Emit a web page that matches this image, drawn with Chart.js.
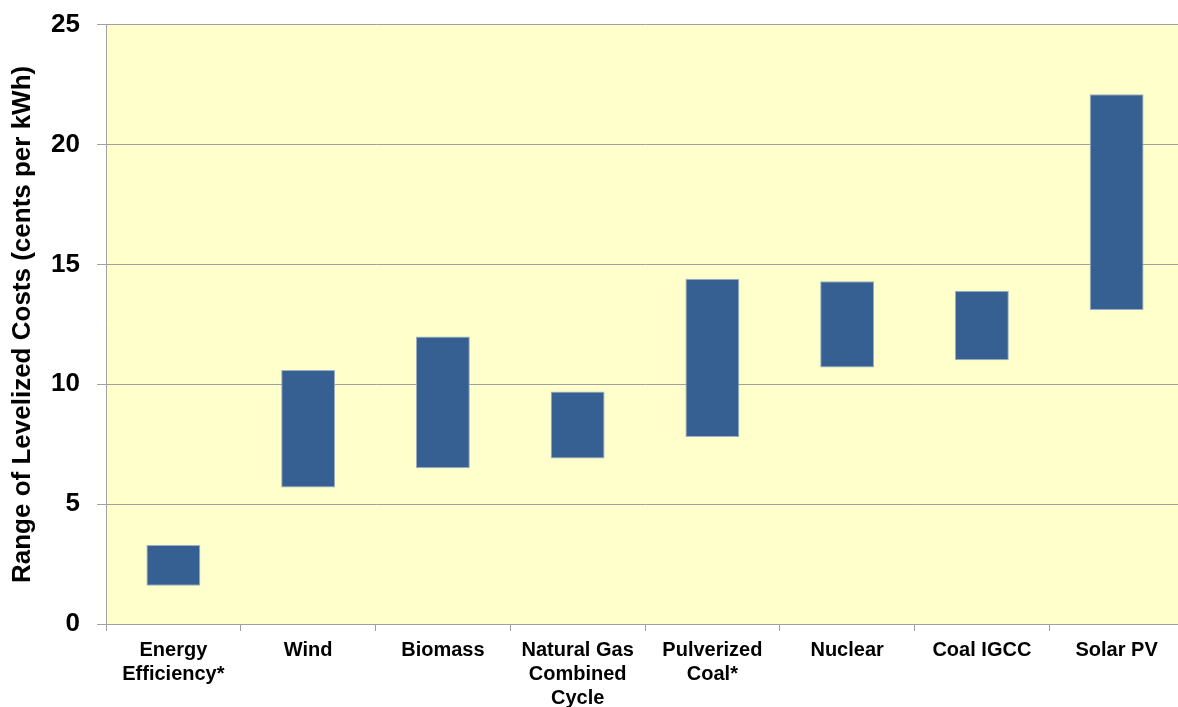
<!DOCTYPE html>
<html>
<head>
<meta charset="utf-8">
<script src="https://cdn.jsdelivr.net/npm/chart.js@4.4.0/dist/chart.umd.min.js"></script>
<style>
  html, body { margin: 0; padding: 0; background: #fff; overflow: hidden; }
  #wrap { width: 1184px; height: 707px; }
</style>
</head>
<body>
<div id="wrap"><canvas id="chart" width="1184" height="707"></canvas></div>
<script>
// categories and cost ranges (cents per kWh)
const categories = [
  ["Energy", "Efficiency*"],
  "Wind",
  "Biomass",
  ["Natural Gas", "Combined", "Cycle"],
  ["Pulverized", "Coal*"],
  "Nuclear",
  "Coal IGCC",
  "Solar PV"
];
const lowCost  = [1.6, 5.7, 6.5, 6.9, 7.8, 10.7, 11.0, 13.1];
const highCost = [3.3, 10.6, 12.0, 9.7, 14.4, 14.3, 13.9, 22.1];
const yTicks = [0, 5, 10, 15, 20, 25];

const ranges = lowCost.map((lo, i) => [lo, highCost[i]]);

// yellow plot background
const plotBg = {
  id: "plotBg",
  beforeDraw(chart) {
    const { ctx, chartArea: a } = chart;
    ctx.save();
    ctx.fillStyle = "#FFFFCC";
    ctx.fillRect(a.left, a.top, a.right - a.left, a.bottom - a.top);
    ctx.restore();
  }
};

new Chart(document.getElementById("chart"), {
  type: "bar",
  data: {
    labels: categories,
    datasets: [{
      data: ranges,
      backgroundColor: "#366092",
      borderColor: "#9DB0C6",
      borderWidth: 1,
      borderSkipped: false,
      barPercentage: 0.4,
      categoryPercentage: 1.0
    }]
  },
  options: {
    responsive: false,
    animation: false,
    layout: { padding: { top: 20, right: 0, bottom: 0, left: 0 } },
    plugins: {
      legend: { display: false },
      tooltip: { enabled: false }
    },
    scales: {
      x: {
        grid: {
          offset: true,
          drawOnChartArea: false,
          color: "#A0A0A0",
          tickLength: 7
        },
        border: { color: "#A0A0A0" },
        ticks: {
          color: "#000",
          padding: 7,
          maxRotation: 0,
          autoSkip: false,
          font: { family: "Liberation Sans, Arial", size: 20, weight: "bold", lineHeight: 1.2 }
        },
        afterFit(scale) { scale.height = 83; }
      },
      y: {
        min: 0,
        max: 25,
        afterBuildTicks(scale) { scale.ticks = yTicks.map(v => ({ value: v })); },
        grid: { color: "#A0A0A0", tickLength: 9 },
        border: { color: "#A0A0A0" },
        ticks: {
          color: "#000",
          padding: 17,
          font: { family: "Liberation Sans, Arial", size: 26, weight: "bold", lineHeight: 0.6 }
        },
        title: {
          display: true,
          text: "Range of Levelized Costs (cents per kWh)",
          color: "#000",
          padding: { top: 7, bottom: 0 },
          font: { family: "Liberation Sans, Arial", size: 26, weight: "bold" }
        },
        afterFit(scale) { scale.width = 106; }
      }
    }
  },
  plugins: [plotBg]
});
</script>
</body>
</html>
